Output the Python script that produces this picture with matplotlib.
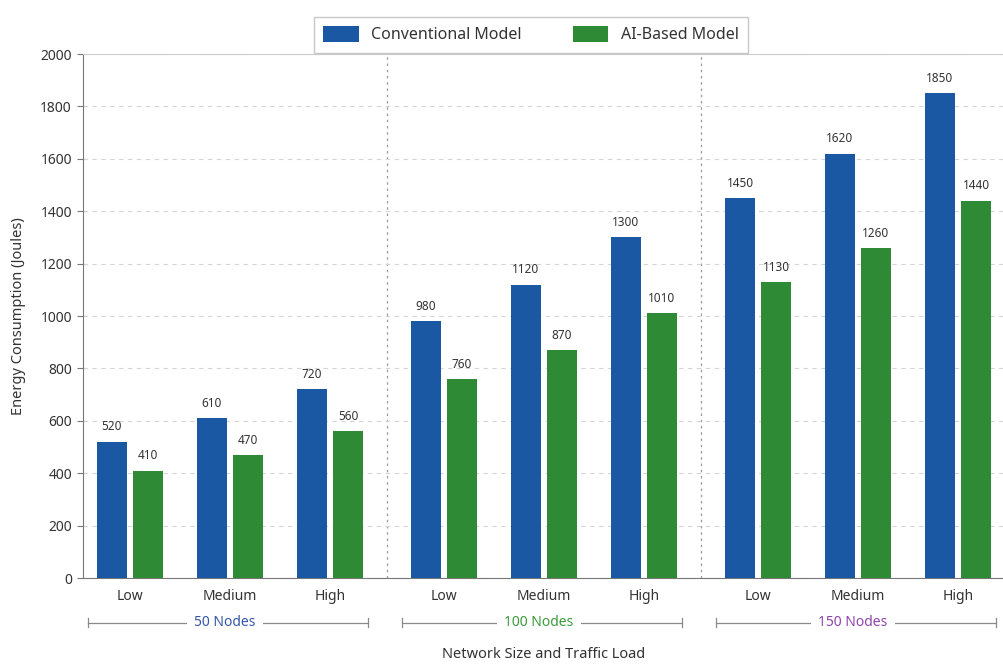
import matplotlib
matplotlib.use("Agg")
import matplotlib.pyplot as plt
from matplotlib.patches import Patch

plt.rcParams['font.family'] = ['Noto Sans', 'DejaVu Sans']

# Data
groups = ["50 Nodes", "100 Nodes", "150 Nodes"]
loads = ["Low", "Medium", "High"]
conventional = [520, 610, 720, 980, 1120, 1300, 1450, 1620, 1850]
ai_based = [410, 470, 560, 760, 870, 1010, 1130, 1260, 1440]
series_names = ["Conventional Model", "AI-Based Model"]
group_colors = ["#3557a8", "#3c9a3c", "#8e44ad"]

blue = "#1b58a3"
green = "#2e8a35"
text_dark = "#333333"

group_step = 3.14
positions = []
for g in range(len(groups)):
    for i in range(len(loads)):
        positions.append(g * group_step + i)

fig = plt.figure(figsize=(10.04, 6.67), dpi=100)
ax = fig.add_axes([83 / 1004, 89 / 667, 921 / 1004, 524 / 667])

width = 0.30
off = 0.18
xb = [p - off for p in positions]
xg = [p + off for p in positions]
ax.bar(xb, conventional, width, color=blue, zorder=3)
ax.bar(xg, ai_based, width, color=green, zorder=3)

for x, v in zip(xb, conventional):
    ax.annotate(f"{v}", (x, v), xytext=(0, 6), textcoords="offset points",
                ha="center", va="bottom", fontsize=8.5, color=text_dark)
for x, v in zip(xg, ai_based):
    ax.annotate(f"{v}", (x, v), xytext=(0, 6), textcoords="offset points",
                ha="center", va="bottom", fontsize=8.5, color=text_dark)

ax.set_xlim(-0.47, 8.74)
ax.set_ylim(0, 2000)
ax.set_yticks(range(0, 2001, 200))
ax.yaxis.grid(True, linestyle=(0, (4, 4)), color="#d5d5d5", linewidth=0.8, zorder=0)

ax.set_xticks(positions)
ax.set_xticklabels(loads * len(groups))
ax.tick_params(axis="x", length=0, pad=8, labelsize=10, labelcolor=text_dark)
ax.tick_params(axis="y", length=4, width=0.8, color="#777777", labelsize=10,
               labelcolor=text_dark, pad=4)

ax.spines["right"].set_visible(False)
ax.spines["top"].set_color("#cccccc")
ax.spines["left"].set_color("#777777")
ax.spines["bottom"].set_color("#777777")

# Group separators
for g in range(1, len(groups)):
    xs = (positions[g * 3 - 1] + positions[g * 3]) / 2
    ax.axvline(xs, color="#999999", linestyle=(0, (2, 3)), linewidth=0.9, zorder=1)

# Group brackets below the tick labels
trans = ax.get_xaxis_transform()
ybr = -0.085
for g, name in enumerate(groups):
    c = positions[g * 3 + 1]
    x0, x1 = c - 1.42, c + 1.38
    ax.plot([x0, x1], [ybr, ybr], transform=trans, color="#8a8a8a", lw=0.9,
            clip_on=False)
    for xe in (x0, x1):
        ax.plot([xe, xe], [ybr - 0.008, ybr + 0.008], transform=trans,
                color="#8a8a8a", lw=0.9, clip_on=False)
    ax.text(c - 0.05, ybr, name, transform=trans, ha="center", va="center",
            fontsize=10, color=group_colors[g], clip_on=False,
            bbox=dict(boxstyle="square,pad=0.5", fc="white", ec="none"))

ax.set_xlabel("Network Size and Traffic Load", fontsize=10.5, color=text_dark,
              labelpad=31)
ax.set_ylabel("Energy Consumption (Joules)", fontsize=10.5, color=text_dark,
              labelpad=10)

handles = [Patch(facecolor=blue, label=series_names[0]),
           Patch(facecolor=green, label=series_names[1])]
fig.legend(handles=handles, loc="upper center", bbox_to_anchor=(0.529, 0.987),
           ncol=2, frameon=True, fontsize=11.5, handlelength=2.2, handleheight=1.1,
           columnspacing=3.2, borderpad=0.6, edgecolor="#bbbbbb", fancybox=False,
           labelcolor=text_dark)

fig.savefig("out.png", dpi=100, facecolor="white")
